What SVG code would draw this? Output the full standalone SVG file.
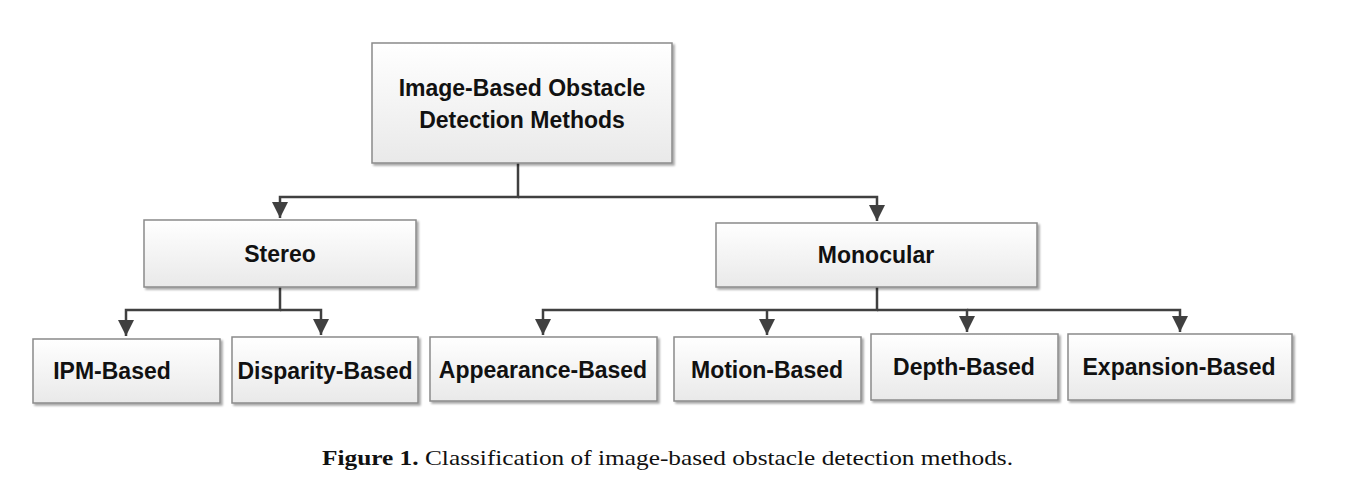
<svg xmlns="http://www.w3.org/2000/svg" width="1345" height="477" viewBox="0 0 1345 477">
<style>
.box{fill:url(#g);stroke:#8a8a8a;stroke-width:1.5;filter:url(#sh)}
.t{font-family:"Liberation Sans",Arial,sans-serif;font-weight:bold;font-size:23px;fill:#111;text-anchor:middle}
.c{fill:none;stroke:#404040;stroke-width:2.5}
.cap{font-family:"Liberation Serif","Times New Roman",serif;font-size:21px;fill:#111}
</style>
<defs>
<linearGradient id="g" x1="0" y1="0" x2="0" y2="1">
<stop offset="0" stop-color="#ffffff"/>
<stop offset="1" stop-color="#e9e9e9"/>
</linearGradient>
<filter id="sh" x="-5%" y="-5%" width="115%" height="120%">
<feGaussianBlur in="SourceAlpha" stdDeviation="1.2"/>
<feOffset dx="1.5" dy="2" result="o"/>
<feComponentTransfer><feFuncA type="linear" slope="0.35"/></feComponentTransfer>
<feMerge><feMergeNode/><feMergeNode in="SourceGraphic"/></feMerge>
</filter>
<marker id="ah" viewBox="0 0 10 10" refX="10" refY="5" markerWidth="6.5" markerHeight="6.5" orient="auto" markerUnits="strokeWidth">
<path d="M0,0 L10,5 L0,10 z" fill="#404040"/>
</marker>
</defs>
<rect width="1345" height="477" fill="#fff"/>
<g id="connectors">
<path class="c" d="M518,163 V197 H280 V218" marker-end="url(#ah)"/>
<path class="c" d="M518,197 H877 V221" marker-end="url(#ah)"/>
<path class="c" d="M280,287 V310 H126 V336" marker-end="url(#ah)"/>
<path class="c" d="M280,310 H321 V335" marker-end="url(#ah)"/>
<path class="c" d="M877,287 V310 H543 V335" marker-end="url(#ah)"/>
<path class="c" d="M767,310 V335" marker-end="url(#ah)"/>
<path class="c" d="M877,310 H967 V332" marker-end="url(#ah)"/>
<path class="c" d="M967,310 H1180 V332" marker-end="url(#ah)"/>
</g>
<g id="root"><rect class="box" x="372" y="43" width="300" height="120"/><text class="t" x="522" y="96">Image-Based Obstacle</text><text class="t" x="522" y="128">Detection Methods</text></g>
<g id="stereo"><rect class="box" x="144" y="220" width="272" height="67"/><text class="t" x="280" y="262">Stereo</text></g>
<g id="monocular"><rect class="box" x="716" y="223" width="321" height="64"/><text class="t" x="876" y="263">Monocular</text></g>
<g id="ipm"><rect class="box" x="33" y="339" width="187" height="64"/><text class="t" x="112" y="379">IPM-Based</text></g>
<g id="disparity"><rect class="box" x="232" y="337" width="186" height="66"/><text class="t" x="325" y="379">Disparity-Based</text></g>
<g id="appearance"><rect class="box" x="430" y="337" width="227" height="64"/><text class="t" x="543" y="378">Appearance-Based</text></g>
<g id="motion"><rect class="box" x="674" y="337" width="187" height="64"/><text class="t" x="767" y="378">Motion-Based</text></g>
<g id="depth"><rect class="box" x="871" y="334" width="187" height="66"/><text class="t" x="964" y="375">Depth-Based</text></g>
<g id="expansion"><rect class="box" x="1068" y="334" width="224" height="66"/><text class="t" x="1179" y="375">Expansion-Based</text></g>
<text class="cap" x="322" y="465" textLength="691" lengthAdjust="spacingAndGlyphs"><tspan font-weight="bold">Figure 1.</tspan> Classification of image-based obstacle detection methods.</text>
</svg>
